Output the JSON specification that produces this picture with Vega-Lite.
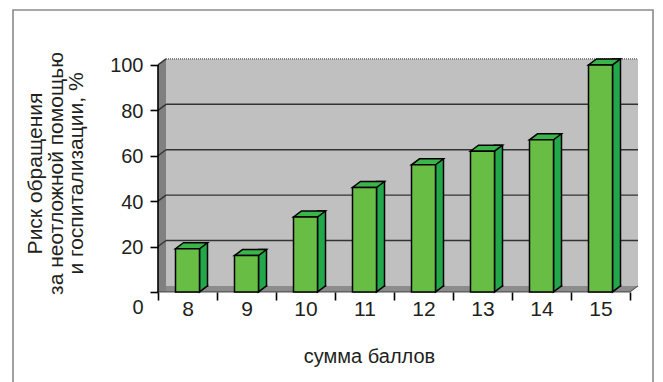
{
  "$schema": "https://vega.github.io/schema/vega-lite/v6.json",
  "width": 640,
  "height": 372,
  "autosize": {"type": "none"},
  "padding": {"left": 13, "top": 10, "right": 10, "bottom": 0},
  "background": "white",
  "config": {"font": "Liberation Sans", "view": {"stroke": null}},
  "datasets": {
    "risk": [
      {"score": 8, "value": 19},
      {"score": 9, "value": 16},
      {"score": 10, "value": 33},
      {"score": 11, "value": 46},
      {"score": 12, "value": 56},
      {"score": 13, "value": 62},
      {"score": 14, "value": 67},
      {"score": 15, "value": 100}
    ],
    "grid": [{"level": 20}, {"level": 40}, {"level": 60}, {"level": 80}],
    "gridEdge": [{"level": 20}, {"level": 40}, {"level": 60}, {"level": 80}, {"level": 100}]
  },
  "layer": [
    {
      "description": "outer frame",
      "data": {"values": [{}]},
      "mark": {"type": "rect", "fillOpacity": 0, "stroke": "#8a8a8a", "strokeWidth": 1.6},
      "encoding": {
        "y": {"datum": 124.2, "type": "quantitative", "scale": {"domain": [-39.7, 124.2], "nice": false, "zero": false}},
        "y2": {"datum": -60}
      }
    },
    {
      "description": "back wall",
      "data": {"values": [{}]},
      "mark": {"type": "rect", "fill": "#c0c0c0", "xOffset": 8, "x2Offset": 8, "yOffset": -6, "y2Offset": -6},
      "encoding": {
        "x": {"datum": 8, "type": "ordinal", "bandPosition": 0, "scale": {"type": "band", "domain": [8, 9, 10, 11, 12, 13, 14, 15], "range": [145, 617], "paddingInner": 0, "paddingOuter": 0}},
        "x2": {"datum": 15, "bandPosition": 1},
        "y": {"datum": 100, "type": "quantitative", "scale": {"domain": [-39.7, 124.2], "nice": false, "zero": false}},
        "y2": {"datum": 0}
      }
    },
    {
      "description": "floor",
      "data": {"values": [{}]},
      "mark": {"type": "rect", "fill": "#8c8c8c", "yOffset": -6},
      "encoding": {
        "x": {"datum": 8, "type": "ordinal", "bandPosition": 0, "scale": {"type": "band", "domain": [8, 9, 10, 11, 12, 13, 14, 15], "range": [145, 617], "paddingInner": 0, "paddingOuter": 0}},
        "x2": {"datum": 15, "bandPosition": 1},
        "y": {"datum": 0, "type": "quantitative", "scale": {"domain": [-39.7, 124.2], "nice": false, "zero": false}},
        "y2": {"datum": 0}
      }
    },
    {
      "description": "floor right corner",
      "data": {"values": [{}]},
      "mark": {"type": "point", "shape": "M0,0L0.4,-0.3L0,-0.3Z", "size": 1600, "filled": true, "opacity": 1, "fill": "#8c8c8c", "strokeWidth": 0},
      "encoding": {
        "x": {"datum": 15, "type": "ordinal", "bandPosition": 1, "scale": {"type": "band", "domain": [8, 9, 10, 11, 12, 13, 14, 15], "range": [145, 617], "paddingInner": 0, "paddingOuter": 0}},
        "y": {"datum": 0, "type": "quantitative", "scale": {"domain": [-39.7, 124.2], "nice": false, "zero": false}}
      }
    },
    {
      "description": "left side wall",
      "data": {"values": [{}]},
      "mark": {"type": "rect", "fill": "#808080", "x2Offset": 8},
      "encoding": {
        "x": {"datum": 8, "type": "ordinal", "bandPosition": 0, "scale": {"type": "band", "domain": [8, 9, 10, 11, 12, 13, 14, 15], "range": [145, 617], "paddingInner": 0, "paddingOuter": 0}},
        "x2": {"datum": 8, "bandPosition": 0},
        "y": {"datum": 100, "type": "quantitative", "scale": {"domain": [-39.7, 124.2], "nice": false, "zero": false}},
        "y2": {"datum": 0}
      }
    },
    {
      "description": "left wall top corner",
      "data": {"values": [{}]},
      "mark": {"type": "point", "shape": "M0,0L0.4,-0.3L0.4,0Z", "size": 1600, "filled": true, "opacity": 1, "fill": "#808080", "strokeWidth": 0},
      "encoding": {
        "x": {"datum": 8, "type": "ordinal", "bandPosition": 0, "scale": {"type": "band", "domain": [8, 9, 10, 11, 12, 13, 14, 15], "range": [145, 617], "paddingInner": 0, "paddingOuter": 0}},
        "y": {"datum": 100, "type": "quantitative", "scale": {"domain": [-39.7, 124.2], "nice": false, "zero": false}}
      }
    },
    {
      "description": "gridlines on the back wall",
      "data": {"name": "grid"},
      "mark": {"type": "rule", "stroke": "#333333", "strokeWidth": 1.4, "xOffset": 8, "x2Offset": 8, "yOffset": -6},
      "encoding": {
        "x": {"datum": 8, "type": "ordinal", "bandPosition": 0, "scale": {"type": "band", "domain": [8, 9, 10, 11, 12, 13, 14, 15], "range": [145, 617], "paddingInner": 0, "paddingOuter": 0}},
        "x2": {"datum": 15, "bandPosition": 1},
        "y": {"field": "level", "type": "quantitative", "scale": {"domain": [-39.7, 124.2], "nice": false, "zero": false}}
      }
    },
    {
      "description": "gridline slants on the side wall",
      "data": {"name": "gridEdge"},
      "mark": {"type": "point", "shape": "M0,0L0.4,-0.3", "size": 1600, "filled": false, "opacity": 1, "stroke": "#333333", "strokeWidth": 1.4},
      "encoding": {
        "x": {"datum": 8, "type": "ordinal", "bandPosition": 0, "scale": {"type": "band", "domain": [8, 9, 10, 11, 12, 13, 14, 15], "range": [145, 617], "paddingInner": 0, "paddingOuter": 0}},
        "y": {"field": "level", "type": "quantitative", "scale": {"domain": [-39.7, 124.2], "nice": false, "zero": false}}
      }
    },
    {
      "description": "dotted top edge of the back wall",
      "data": {"values": [{}]},
      "mark": {"type": "rule", "stroke": "#555555", "strokeWidth": 1.3, "strokeDash": [1, 1], "xOffset": 8, "x2Offset": 8, "yOffset": -6},
      "encoding": {
        "x": {"datum": 8, "type": "ordinal", "bandPosition": 0, "scale": {"type": "band", "domain": [8, 9, 10, 11, 12, 13, 14, 15], "range": [145, 617], "paddingInner": 0, "paddingOuter": 0}},
        "x2": {"datum": 15, "bandPosition": 1},
        "y": {"datum": 100, "type": "quantitative", "scale": {"domain": [-39.7, 124.2], "nice": false, "zero": false}}
      }
    },
    {
      "description": "front edge of the floor",
      "data": {"values": [{}]},
      "mark": {"type": "rule", "stroke": "#555555", "strokeWidth": 1.2},
      "encoding": {
        "x": {"datum": 8, "type": "ordinal", "bandPosition": 0, "scale": {"type": "band", "domain": [8, 9, 10, 11, 12, 13, 14, 15], "range": [145, 617], "paddingInner": 0, "paddingOuter": 0}},
        "x2": {"datum": 15, "bandPosition": 1},
        "y": {"datum": 0, "type": "quantitative", "scale": {"domain": [-39.7, 124.2], "nice": false, "zero": false}}
      }
    },
    {
      "description": "floor right slant",
      "data": {"values": [{}]},
      "mark": {"type": "point", "shape": "M0,0L0.4,-0.3", "size": 1600, "filled": false, "opacity": 1, "stroke": "#555555", "strokeWidth": 1.2},
      "encoding": {
        "x": {"datum": 15, "type": "ordinal", "bandPosition": 1, "scale": {"type": "band", "domain": [8, 9, 10, 11, 12, 13, 14, 15], "range": [145, 617], "paddingInner": 0, "paddingOuter": 0}},
        "y": {"datum": 0, "type": "quantitative", "scale": {"domain": [-39.7, 124.2], "nice": false, "zero": false}}
      }
    },
    {
      "description": "value axis line",
      "data": {"values": [{}]},
      "mark": {"type": "rule", "stroke": "#000000", "strokeWidth": 1.6},
      "encoding": {
        "x": {"datum": 8, "type": "ordinal", "bandPosition": 0, "scale": {"type": "band", "domain": [8, 9, 10, 11, 12, 13, 14, 15], "range": [145, 617], "paddingInner": 0, "paddingOuter": 0}},
        "y": {"datum": 0, "type": "quantitative", "scale": {"domain": [-39.7, 124.2], "nice": false, "zero": false}},
        "y2": {"datum": 100}
      }
    },
    {
      "description": "bar side faces",
      "data": {"name": "risk"},
      "mark": {"type": "bar", "width": 8, "xOffset": 16, "yOffset": -6, "y2Offset": -6, "fill": "#22a84a", "stroke": "#000000", "strokeWidth": 1.5},
      "encoding": {
        "x": {"field": "score", "type": "ordinal", "scale": {"type": "band", "domain": [8, 9, 10, 11, 12, 13, 14, 15], "range": [145, 617], "paddingInner": 0, "paddingOuter": 0}},
        "y": {"field": "value", "type": "quantitative", "scale": {"domain": [-39.7, 124.2], "nice": false, "zero": false}},
        "y2": {"datum": 0}
      }
    },
    {
      "description": "bar side faces, slanted lower end",
      "data": {"name": "risk"},
      "mark": {"type": "point", "shape": "M0.6,-0.375L0.6,0L1,-0.3L1,-0.375", "size": 1600, "filled": true, "opacity": 1, "fill": "#22a84a", "stroke": "#000000", "strokeWidth": 1.5},
      "encoding": {
        "x": {"field": "score", "type": "ordinal", "scale": {"type": "band", "domain": [8, 9, 10, 11, 12, 13, 14, 15], "range": [145, 617], "paddingInner": 0, "paddingOuter": 0}},
        "y": {"datum": 0, "type": "quantitative", "scale": {"domain": [-39.7, 124.2], "nice": false, "zero": false}}
      }
    },
    {
      "description": "bar top faces",
      "data": {"name": "risk"},
      "mark": {"type": "point", "shape": "M-0.6,0L0.6,0L1,-0.3L-0.2,-0.3Z", "size": 1600, "filled": true, "opacity": 1, "fill": "#3bb54a", "stroke": "#000000", "strokeWidth": 1.5},
      "encoding": {
        "x": {"field": "score", "type": "ordinal", "scale": {"type": "band", "domain": [8, 9, 10, 11, 12, 13, 14, 15], "range": [145, 617], "paddingInner": 0, "paddingOuter": 0}},
        "y": {"field": "value", "type": "quantitative", "scale": {"domain": [-39.7, 124.2], "nice": false, "zero": false}}
      }
    },
    {
      "description": "bar front faces with both axes",
      "data": {"name": "risk"},
      "mark": {"type": "bar", "width": 24, "fill": "#68bd45", "stroke": "#000000", "strokeWidth": 1.5},
      "encoding": {
        "x": {
          "field": "score",
          "type": "ordinal",
          "scale": {"type": "band", "domain": [8, 9, 10, 11, 12, 13, 14, 15], "range": [145, 617], "paddingInner": 0, "paddingOuter": 0},
          "axis": {
            "orient": "bottom",
            "offset": -90,
            "zindex": 1,
            "domain": false,
            "grid": false,
            "tickBand": "extent",
            "tickColor": "#000000",
            "tickWidth": 1.6,
            "tickSize": 8,
            "labelAngle": 0,
            "labelAlign": "center",
            "labelFontSize": 21,
            "labelColor": "#231f20",
            "labelPadding": 9,
            "title": "сумма баллов",
            "titleFontSize": 20,
            "titleFontWeight": "normal",
            "titleColor": "#231f20",
            "titleX": 356,
            "titleY": 70,
            "titleAlign": "center",
            "titleBaseline": "alphabetic"
          }
        },
        "y": {
          "field": "value",
          "type": "quantitative",
          "scale": {"domain": [-39.7, 124.2], "nice": false, "zero": false},
          "axis": {
            "orient": "left",
            "offset": -145,
            "zindex": 1,
            "values": [0, 20, 40, 60, 80, 100],
            "domain": false,
            "grid": false,
            "tickColor": "#000000",
            "tickWidth": 1.6,
            "tickSize": 8,
            "labelFontSize": 20,
            "labelColor": "#231f20",
            "labelPadding": 7,
            "labelOffset": {"condition": {"test": "datum.value === 0", "value": 16}, "value": 1},
            "title": ["Риск обращения", "за неотложной помощью", "и госпитализации, %"],
            "titleFontSize": 21,
            "titleFontWeight": "normal",
            "titleColor": "#231f20",
            "titleAngle": 270,
            "titleAlign": "center",
            "titleBaseline": "alphabetic",
            "titleLineHeight": 20.5,
            "titleX": -116.5,
            "titleY": 163
          }
        },
        "y2": {"datum": 0}
      }
    }
  ]
}
